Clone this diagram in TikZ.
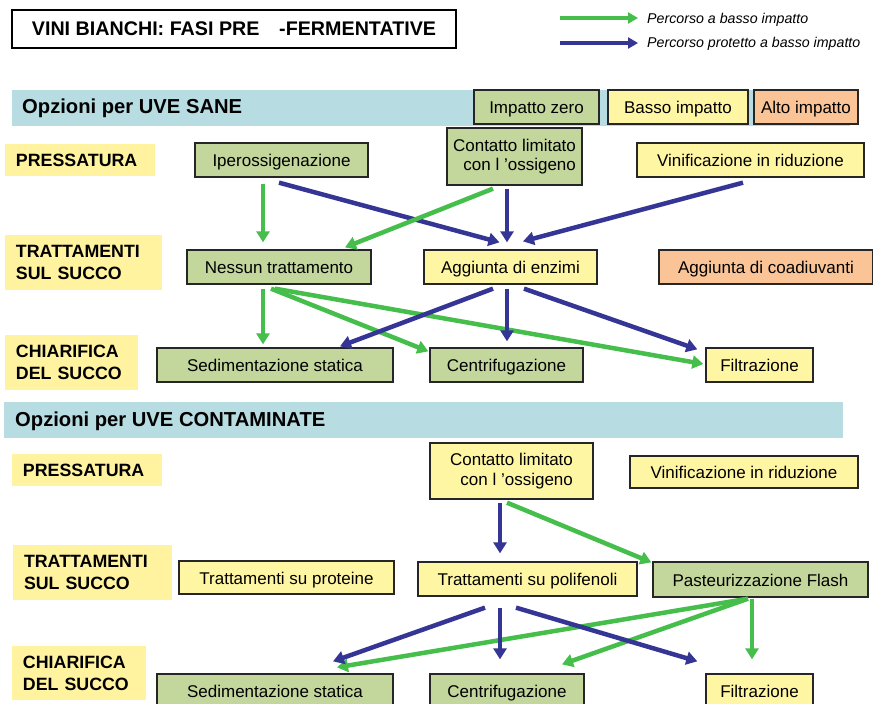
\documentclass[tikz,border=0pt]{standalone}
\usepackage{fontspec}
\setmainfont{Liberation Sans}
\usetikzlibrary{arrows.meta,calc}

\definecolor{gArrow}{HTML}{46BE4B}
\definecolor{bArrow}{HTML}{353595}
\definecolor{gFill}{HTML}{C3D69B}
\definecolor{yFill}{HTML}{FFF6A3}
\definecolor{oFill}{HTML}{FAC496}
\definecolor{labFill}{HTML}{FFF3A0}
\definecolor{bandFill}{HTML}{B7DDE3}

\tikzset{
 box/.style={draw=black!85, line width=1.3pt, inner sep=0pt, align=center, font=\fontsize{17}{19.5}\selectfont},
 one/.style={text height=13pt, text depth=0pt},
 gbox/.style={box, fill=gFill},
 ybox/.style={box, fill=yFill},
 obox/.style={box, fill=oFill},
 lab/.style={fill=labFill, inner xsep=11pt, inner ysep=0pt, align=left, font=\bfseries\fontsize{17.8}{22}\selectfont},
 bandtxt/.style={font=\bfseries\fontsize{20.2}{22}\selectfont, anchor=west, inner sep=0pt},
 legtxt/.style={font=\itshape\fontsize{14.2}{16}\selectfont, anchor=west, inner sep=0pt},
 garr/.style={draw=gArrow, line width=4.5pt, -{Triangle[length=11pt,width=13pt]}},
 barr/.style={draw=bArrow, line width=4.5pt, -{Triangle[length=11pt,width=13pt]}},
 lgarr/.style={draw=gArrow, line width=4pt, -{Triangle[length=10pt,width=11pt]}},
 lbarr/.style={draw=bArrow, line width=4pt, -{Triangle[length=10pt,width=11pt]}},
}

\begin{document}
\begin{tikzpicture}[x=1pt,y=-1pt]
\clip (0,0) rectangle (873,704);
\fill[white] (0,0) rectangle (873,704);

% title
\node[draw=black, line width=1.2pt, minimum width=444pt, minimum height=38pt, inner sep=0pt,
      font=\bfseries\fontsize{19.7}{22}\selectfont] (title) at (234,29)
      {VINI BIANCHI: FASI PRE\hspace{1em}-FERMENTATIVE};

% legend
\coordinate (lg1s) at (560,18);
\coordinate (lg1e) at (638,18);
\coordinate (lg2s) at (560,43);
\coordinate (lg2e) at (638,43);
\draw[lgarr] (lg1s) -- (lg1e);
\draw[lbarr] (lg2s) -- (lg2e);
\node[legtxt] (leg1) at (647,20) {Percorso a basso impatto};
\node[legtxt] (leg2) at (647,44) {Percorso protetto a basso impatto};

% ===== section 1 =====
\fill[bandFill] (12,90) rectangle (850,126);
\node[bandtxt] (band1) at (22,108) {Opzioni per UVE SANE};
\node[gbox, one, minimum width=125pt, minimum height=34pt] (kzero) at (536.5,107) {Impatto zero};
\node[ybox, one, minimum width=140pt, minimum height=34pt] (kbasso) at (678,107) {Basso impatto};
\node[obox, one, minimum width=104pt, minimum height=34pt] (kalto) at (806,107) {Alto impatto};

\node[lab, text width=128pt, minimum height=32pt] (lp1) at (80,160) {PRESSATURA};
\node[lab, text width=135pt, minimum height=55pt] (lt1) at (83.5,262.5) {TRATTAMENTI\\SUL SUCCO};
\node[lab, text width=111pt, minimum height=55pt] (lc1) at (71.5,362.5) {CHIARIFICA\\DEL SUCCO};

\node[gbox, one, minimum width=173pt, minimum height=34pt] (iper) at (281.5,160) {Iperossigenazione};
\node[gbox, align=right, minimum width=135pt, minimum height=57pt] (cont1) at (514.5,156.5) {Contatto limitato\\con l ’ossigeno};
\node[ybox, one, minimum width=227pt, minimum height=34pt] (vin1) at (750.5,160) {Vinificazione in riduzione};
\node[gbox, one, minimum width=184pt, minimum height=34pt] (ness) at (279,267) {Nessun trattamento};
\node[ybox, one, minimum width=173pt, minimum height=34pt] (agg) at (510.5,267) {Aggiunta di enzimi};
\node[obox, one, minimum width=214pt, minimum height=34pt] (coad) at (766,267) {Aggiunta di coadiuvanti};
\node[gbox, one, minimum width=236pt, minimum height=34pt] (sed1) at (275,365) {Sedimentazione statica};
\node[gbox, one, minimum width=153pt, minimum height=34pt] (cen1) at (506.5,365) {Centrifugazione};
\node[ybox, one, minimum width=107pt, minimum height=34pt] (fil1) at (759.5,365) {Filtrazione};

\draw[garr] ($(iper.south)+(-18.5,6)$) -- ($(ness.north)+(-16,-7)$);
\draw[barr] ($(iper.south)+(-2.5,5)$) -- ($(agg.north)+(-11,-7)$);
\draw[garr] ($(cont1.south)+(-21.5,3)$) -- ($(ness.north)+(66,-2)$);
\draw[barr] ($(cont1.south)+(-7.5,3)$) -- ($(agg.north)+(-3.5,-7)$);
\draw[barr] ($(vin1.south)+(-7.5,5)$) -- ($(agg.north)+(12.5,-8)$);
\draw[garr] ($(ness.south)+(-16,4)$) -- ($(sed1.north)+(-12,-3)$);
\draw[garr] ($(ness.south)+(-8,4)$) -- ($(cen1.north west)+(-1,4)$);
\draw[garr] ($(ness.south)+(-4,4)$) -- ($(fil1.west)+(-2,-1)$);
\draw[barr] ($(agg.south)+(-17.5,4)$) -- ($(sed1.north)+(65,-1)$);
\draw[barr] ($(agg.south)+(-3.5,4)$) -- ($(cen1.north)+(0.5,-6)$);
\draw[barr] ($(agg.south)+(13.5,4)$) -- ($(fil1.north west)+(-8,2)$);

% ===== section 2 =====
\fill[bandFill] (4,402) rectangle (843,438);
\node[bandtxt] (band2) at (15,421) {Opzioni per UVE CONTAMINATE};

\node[lab, text width=128pt, minimum height=32pt] (lp2) at (87,470) {PRESSATURA};
\node[lab, text width=137pt, minimum height=55pt] (lt2) at (92.5,572.5) {TRATTAMENTI\\SUL SUCCO};
\node[lab, text width=112pt, minimum height=54pt] (lc2) at (79,673) {CHIARIFICA\\DEL SUCCO};

\node[ybox, align=right, minimum width=163pt, minimum height=56pt] (cont2) at (511.5,471) {Contatto limitato\\con l ’ossigeno};
\node[ybox, one, minimum width=228pt, minimum height=32pt] (vin2) at (744,472) {Vinificazione in riduzione};
\node[ybox, one, minimum width=215pt, minimum height=33pt] (prot) at (286.5,577.5) {Trattamenti su proteine};
\node[ybox, one, minimum width=219pt, minimum height=34pt] (poli) at (527.5,579) {Trattamenti su polifenoli};
\node[gbox, one, minimum width=215pt, minimum height=35pt] (past) at (760.5,579.5) {Pasteurizzazione Flash};
\node[gbox, one, minimum width=236pt, minimum height=34pt] (sed2) at (275,691) {Sedimentazione statica};
\node[gbox, one, minimum width=154pt, minimum height=34pt] (cen2) at (507,691) {Centrifugazione};
\node[ybox, one, minimum width=107pt, minimum height=34pt] (fil2) at (759.5,691) {Filtrazione};

\draw[barr] ($(cont2.south)+(-11.5,3)$) -- ($(poli.north)+(-27.5,-8)$);
\draw[garr] ($(cont2.south)+(-4.5,3)$) -- ($(past.north west)+(-1,1)$);
\draw[garr] ($(past.south)+(-12.5,1)$) -- ($(sed2.north)+(62,-6)$);
\draw[garr] ($(past.south)+(-12.5,1)$) -- ($(cen2.north)+(55,-9)$);
\draw[garr] ($(past.south)+(-8.5,1)$) -- ($(fil2.north)+(-7.5,-14)$);
\draw[barr] ($(poli.south)+(-42.5,11)$) -- ($(sed2.north)+(58,-12)$);
\draw[barr] ($(poli.south)+(-27.5,11)$) -- ($(cen2.north)+(-7,-14)$);
\draw[barr] ($(poli.south)+(-11.5,11)$) -- ($(fil2.north west)+(-8,-12)$);
\end{tikzpicture}
\end{document}
